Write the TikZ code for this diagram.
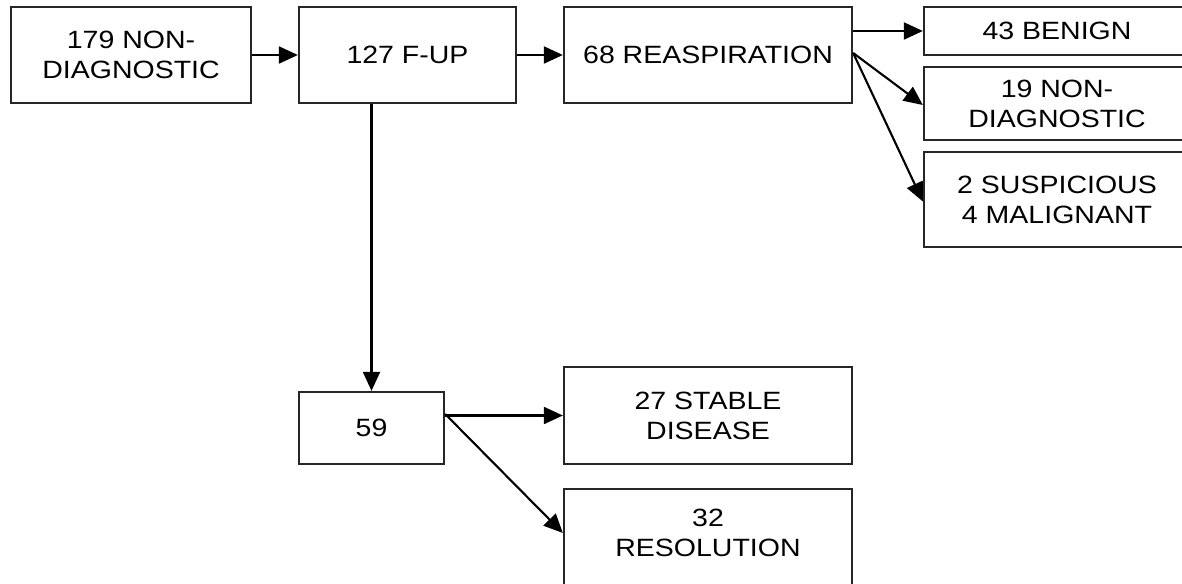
\documentclass[tikz,border=0pt]{standalone}
\usepackage{fontspec}
\setmainfont{Liberation Sans}[FakeStretch=1.14]
\usetikzlibrary{arrows.meta}
\begin{document}
\begin{tikzpicture}[x=1pt,y=-1pt,
  box/.style={draw=black!85, line width=2.3pt, inner sep=0pt, align=center,
    font=\fontsize{25}{30}\selectfont},
  txt/.style={inner sep=0pt, align=center, font=\fontsize{25}{30}\selectfont},
  arr/.style={line width=2.1pt, -{Triangle[length=19pt,width=17pt]}}]
\useasboundingbox (0,0) rectangle (1182,583);
\clip (0,0) rectangle (1182,583);
\fill[white] (0,0) rectangle (1182,583);
% top row
\node[box, minimum width=240, minimum height=96] (dia) at (131,55) {179 NON-\\DIAGNOSTIC};
\node[box, minimum width=217, minimum height=96] (fup) at (407.5,55) {127 F-UP};
\node[box, minimum width=288, minimum height=96] (rea) at (708,55) {68 REASPIRATION};
% right column
\node[box, minimum width=266, minimum height=48] (ben) at (1057,31) {43 BENIGN};
\node[box, minimum width=266, minimum height=73] (nd) at (1057,103.5) {19 NON-\\DIAGNOSTIC};
\node[box, minimum width=266, minimum height=95] (sus) at (1057,199.5) {2 SUSPICIOUS\\4 MALIGNANT};
% lower part
\node[box, minimum width=145, minimum height=72] (f59) at (371.5,428) {59};
\node[box, minimum width=288, minimum height=97] (sta) at (708,415.5) {27 STABLE\\DISEASE};
\node[box, minimum width=288, minimum height=121] (res) at (708,549.5) {};
\node[txt] (restxt) at (708,533) {32\\RESOLUTION};
% connectors
\draw[arr] (dia.east) -- (fup.west);
\draw[arr] (fup.east) -- (rea.west);
\draw[arr] (rea.east |- ben.west) -- (ben.west);
\coordinate (rs) at ([yshift=2pt]rea.east);
\draw[arr] (rs) -- ([yshift=-1.5pt]nd.west);
\draw[arr] (rs) -- ([yshift=-2pt]sus.west);
\draw[arr] (f59.north |- fup.south) -- (f59.north);
\draw[arr] (f59.east |- sta.west) -- (sta.west);
\coordinate (fs) at ([yshift=14pt]f59.east);
\draw[arr] (fs) -- (res.west |- restxt.center);
\end{tikzpicture}
\end{document}
